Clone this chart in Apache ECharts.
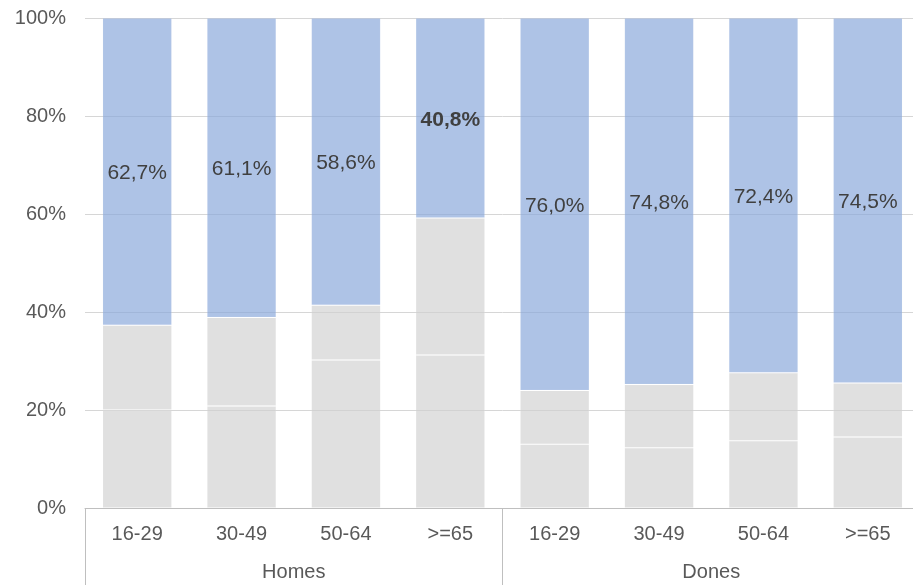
<!DOCTYPE html>
<html>
<head>
<meta charset="utf-8">
<script src="https://cdn.jsdelivr.net/npm/echarts@6/dist/echarts.min.js"></script>
<style>
html,body{margin:0;padding:0;background:#fff;overflow:hidden;width:913px;height:585px;}
#chart{width:920px;height:585px;}
</style>
</head>
<body>
<div id="chart"></div>
<script>
// ---- data ----
var ageGroups = ['16-29', '30-49', '50-64', '>=65', '16-29', '30-49', '50-64', '>=65'];
var sexGroups = ['Homes', 'Dones'];
var blueShare = [62.7, 61.1, 58.6, 40.8, 76.0, 74.8, 72.4, 74.5];
var grayLower = [20.0, 20.8, 30.2, 31.2, 13.0, 12.3, 13.7, 14.5];
var grayUpper = [17.3, 18.1, 11.2, 28.0, 11.0, 12.9, 13.9, 11.0];
var yTicks = [0, 20, 40, 60, 80, 100];
var boldIndex = 3;

var FONT = '"Liberation Sans", Arial, sans-serif';
var chart = echarts.init(document.getElementById('chart'), null, {renderer: 'canvas'});

var grayColor = 'rgba(208,208,208,0.66)';
var blueColor = 'rgba(136,166,218,0.68)';
var border = {borderColor: 'rgba(255,255,255,0.08)', borderWidth: 1};

function fmt(v) { return v.toFixed(1).replace('.', ',') + '%'; }

var blueData = blueShare.map(function (v, i) {
  var item = {value: v};
  if (i === boldIndex) item.label = {fontWeight: 'bold'};
  return item;
});

chart.setOption({
  animation: false,
  backgroundColor: '#fff',
  grid: {left: 85, top: 18, right: 0, bottom: 77, containLabel: false},
  xAxis: [
    {
      type: 'category', data: ageGroups, position: 'bottom',
      axisLine: {show: true, lineStyle: {color: '#bfbfbf', width: 1}},
      axisTick: {show: false},
      axisLabel: {color: '#595959', fontSize: 20, fontFamily: FONT, margin: 16, interval: 0}
    },
    {
      type: 'category', data: sexGroups, position: 'bottom',
      axisLine: {show: false},
      axisTick: {show: true, length: 77, lineStyle: {color: '#bfbfbf', width: 1}},
      axisLabel: {color: '#595959', fontSize: 20, fontFamily: FONT, margin: 54}
    }
  ],
  yAxis: {
    type: 'value', min: yTicks[0], max: yTicks[yTicks.length - 1], interval: 20,
    axisLine: {show: false}, axisTick: {show: false},
    axisLabel: {color: '#595959', fontSize: 20, fontFamily: FONT, margin: 19,
      formatter: function (v) { return v + '%'; }},
    splitLine: {lineStyle: {color: '#d6d6d6', width: 1}}
  },
  series: [
    {type: 'bar', stack: 's', data: grayLower, barWidth: '66.5%',
      itemStyle: Object.assign({color: grayColor}, border), xAxisIndex: 0},
    {type: 'bar', stack: 's', data: grayUpper, barWidth: '66.5%',
      itemStyle: Object.assign({color: grayColor}, border), xAxisIndex: 0},
    {type: 'bar', stack: 's', data: blueData, barWidth: '66.5%',
      itemStyle: Object.assign({color: blueColor}, border), xAxisIndex: 0,
      label: {show: true, position: 'inside', offset: [0, 2], color: '#404040', fontSize: 21, fontFamily: FONT,
        formatter: function (p) { return fmt(p.value); }}}
  ]
});
</script>
</body>
</html>
